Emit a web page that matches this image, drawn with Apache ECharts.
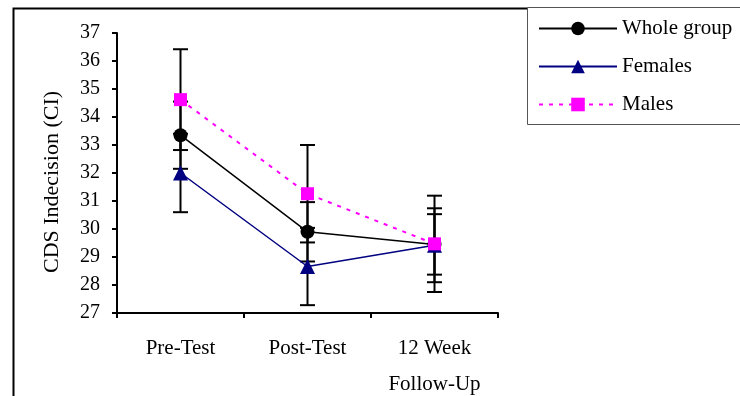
<!DOCTYPE html>
<html>
<head>
<meta charset="utf-8">
<script src="https://cdn.jsdelivr.net/npm/echarts@6/dist/echarts.min.js"></script>
<style>
  html, body { margin: 0; padding: 0; background: #fff; }
  #chart { width: 740px; height: 396px; }
</style>
</head>
<body>
<div id="chart"></div>
<script>
// values
const categories = ['Pre-Test', 'Post-Test', '12 Week\nFollow-Up']
const seriesNames = ['Whole group', 'Females', 'Males']
const wholeGroup = [33.35, 29.9, 29.45]
const females = [32.0, 28.66, 29.42]
const males = [34.62, 31.26, 29.47]
// half width of the confidence intervals
const wholeErr = [1.2, 1.06, 1.08]
const femalesErr = [1.4, 1.38, 1.32]
const malesErr = [1.8, 1.74, 1.72]
const yTicks = { min: 27, max: 37, step: 1 }

const font = "'Liberation Serif', 'Times New Roman', serif"

const errRows = (vals, errs) => vals.map((v, i) => [i, v - errs[i], v + errs[i]])

const errSeries = (vals, errs) => ({
    type: 'custom',
    silent: true,
    z: 1,
    encode: { x: 0, y: [1, 2] },
    data: errRows(vals, errs),
    renderItem: function (params, api) {
        const lo = api.coord([api.value(0), api.value(1)])
        const hi = api.coord([api.value(0), api.value(2)])
        const w = 7.5
        const st = { stroke: '#000', lineWidth: 2 }
        return {
            type: 'group',
            children: [
                { type: 'line', shape: { x1: lo[0], y1: lo[1], x2: hi[0], y2: hi[1] }, style: st },
                { type: 'line', shape: { x1: lo[0] - w, y1: lo[1], x2: lo[0] + w, y2: lo[1] }, style: st },
                { type: 'line', shape: { x1: hi[0] - w, y1: hi[1], x2: hi[0] + w, y2: hi[1] }, style: st }
            ]
        }
    }
})

const myChart = echarts.init(document.getElementById('chart'), null, { renderer: 'canvas' })

myChart.setOption({
    backgroundColor: '#fff',
    animation: false,
    textStyle: { fontFamily: font },
    graphic: [
        { type: 'rect', left: 11, top: 6, shape: { width: 800, height: 500 },
          style: { fill: 'none', stroke: '#000', lineWidth: 2 }, z: 0 },
        { type: 'rect', left: 527, top: 7, shape: { width: 300, height: 117 },
          style: { fill: '#fff', stroke: '#555', lineWidth: 1 }, z: 0 }
    ],
    legend: {
        data: seriesNames,
        orient: 'vertical',
        left: 533,
        top: 13,
        itemWidth: 78,
        itemHeight: 17,
        itemGap: 17,
        textStyle: { fontFamily: font, fontSize: 21, color: '#000' },
        z: 5
    },
    grid: { left: 117, right: 242, top: 33, bottom: 83, outerBoundsMode: 'none', containLabel: false },
    xAxis: {
        type: 'category',
        data: categories,
        boundaryGap: true,
        axisLine: { lineStyle: { color: '#000', width: 2 } },
        axisTick: { show: true, length: 5, alignWithLabel: false, lineStyle: { color: '#000', width: 2 } },
        axisLabel: { color: '#000', fontFamily: font, fontSize: 21, margin: 17, lineHeight: 36 }
    },
    yAxis: {
        type: 'value',
        min: yTicks.min,
        max: yTicks.max,
        interval: yTicks.step,
        name: 'CDS Indecision (CI)',
        nameLocation: 'middle',
        nameGap: 54,
        nameTextStyle: { color: '#000', fontFamily: font, fontSize: 22, padding: [0, 18, 0, 0] },
        axisLine: { show: true, lineStyle: { color: '#000', width: 2 } },
        axisTick: { show: true, length: 5, lineStyle: { color: '#000', width: 2 } },
        axisLabel: { color: '#000', fontFamily: font, fontSize: 20, margin: 17 },
        splitLine: { show: false }
    },
    series: [
        errSeries(wholeGroup, wholeErr),
        errSeries(females, femalesErr),
        errSeries(males, malesErr),
        {
            name: 'Whole group', type: 'line', data: wholeGroup, z: 3,
            symbol: 'circle', symbolSize: 14,
            itemStyle: { color: '#000' },
            lineStyle: { color: '#000', width: 1.5 }
        },
        {
            name: 'Females', type: 'line', data: females, z: 4,
            symbol: 'triangle', symbolSize: 15,
            itemStyle: { color: '#000080' },
            lineStyle: { color: '#000080', width: 1.5 }
        },
        {
            name: 'Males', type: 'line', data: males, z: 5,
            symbol: 'rect', symbolSize: 13,
            itemStyle: { color: '#ff00ff' },
            lineStyle: { color: '#ff00ff', width: 2, type: [4, 6] }
        }
    ]
})
</script>
</body>
</html>
